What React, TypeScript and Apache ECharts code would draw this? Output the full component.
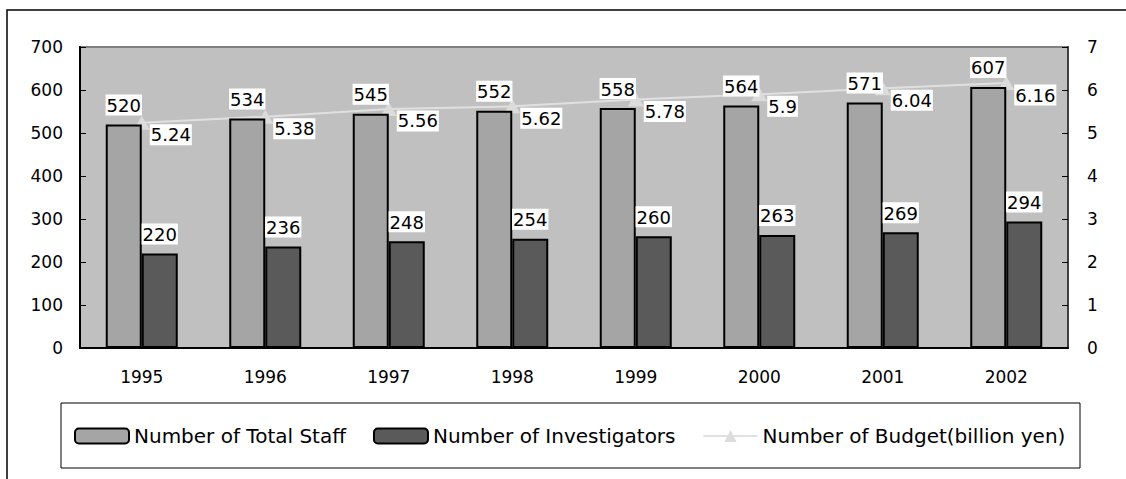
import React, { useEffect, useRef } from "react";
import * as echarts from "echarts";

const years = ["1995", "1996", "1997", "1998", "1999", "2000", "2001", "2002"];
const totalStaff = [520, 534, 545, 552, 558, 564, 571, 607];
const investigators = [220, 236, 248, 254, 260, 263, 269, 294];
const budget = [5.24, 5.38, 5.56, 5.62, 5.78, 5.9, 6.04, 6.16];
const seriesNames = [
  "Number of Total Staff",
  "Number of Investigators",
  "Number of Budget(billion yen)",
];

const FONT = "DejaVu Sans";

export default function App() {
  const ref = useRef<HTMLDivElement>(null);
  useEffect(() => {
    if (!ref.current) return;
    const chart = echarts.init(ref.current, undefined, { renderer: "svg" });
    const labelBox = {
      show: true,
      backgroundColor: "#ffffff",
      color: "#000",
      fontFamily: FONT,
      fontSize: 18,
      padding: [2, 1, 1, 1],
    };
    chart.setOption({
      animation: false,
      backgroundColor: "#ffffff",
      textStyle: { fontFamily: FONT },
      graphic: [
        {
          type: "rect",
          shape: { x: 7, y: 10, width: 1300, height: 700 },
          style: { fill: "none", stroke: "#000", lineWidth: 1.5 },
          silent: true,
          z: -10,
        },
        {
          type: "rect",
          shape: { x: 61, y: 403, width: 1019, height: 65 },
          style: { fill: "#ffffff", stroke: "#000", lineWidth: 1 },
          silent: true,
          z: -5,
        },
      ],
      grid: {
        left: 80,
        right: 58,
        top: 47,
        bottom: 131,
        show: true,
        backgroundColor: "#c0c0c0",
        borderColor: "#808080",
        borderWidth: 2,
      },
      legend: {
        left: 74,
        top: 426,
        padding: 0,
        itemWidth: 54,
        itemHeight: 15,
        itemGap: 27,
        textStyle: { fontFamily: FONT, fontSize: 20, color: "#000" },
        data: seriesNames,
      },
      xAxis: {
        type: "category",
        data: years,
        boundaryGap: true,
        axisLine: { lineStyle: { color: "#000", width: 2 } },
        axisTick: { inside: true, length: 6, lineStyle: { color: "#000" } },
        axisLabel: { color: "#000", fontFamily: FONT, fontSize: 17, margin: 20 },
      },
      yAxis: [
        {
          type: "value",
          min: 0,
          max: 700,
          interval: 100,
          axisLine: { show: true, lineStyle: { color: "#000", width: 2 } },
          axisTick: { show: true, inside: true, length: 6, lineStyle: { color: "#000" } },
          axisLabel: { color: "#000", fontFamily: FONT, fontSize: 17, margin: 17 },
          splitLine: { show: false },
        },
        {
          type: "value",
          min: 0,
          max: 7,
          interval: 1,
          position: "right",
          axisLine: { show: true, lineStyle: { color: "#404040", width: 2 } },
          axisTick: { show: true, inside: true, length: 6, lineStyle: { color: "#000" } },
          axisLabel: { color: "#000", fontFamily: FONT, fontSize: 17, margin: 19 },
          splitLine: { show: false },
        },
      ],
      series: [
        {
          name: seriesNames[0],
          type: "bar",
          data: totalStaff,
          barWidth: 36,
          barGap: "0%",
          z: 3,
          itemStyle: { color: "#a5a5a5", borderColor: "#000", borderWidth: 2 },
          label: { ...labelBox, position: "top", distance: 9 },
        },
        {
          name: seriesNames[1],
          type: "bar",
          data: investigators,
          barWidth: 36,
          barGap: "0%",
          z: 3,
          itemStyle: { color: "#5a5a5a", borderColor: "#000", borderWidth: 2 },
          label: { ...labelBox, position: "top", distance: 9 },
        },
        {
          name: seriesNames[2],
          type: "line",
          yAxisIndex: 1,
          data: budget,
          symbol: "triangle",
          symbolSize: [16, 14],
          z: 2,
          lineStyle: { color: "#e0e0e0", width: 2 },
          itemStyle: { color: "#dcdcdc" },
          label: { ...labelBox, position: "right", distance: 0, offset: [0, 12] },
        },
      ],
    });
    return () => chart.dispose();
  }, []);
  return (
    <div
      ref={ref}
      style={{ position: "absolute", left: 0, top: 0, width: 1126, height: 479 }}
    />
  );
}
